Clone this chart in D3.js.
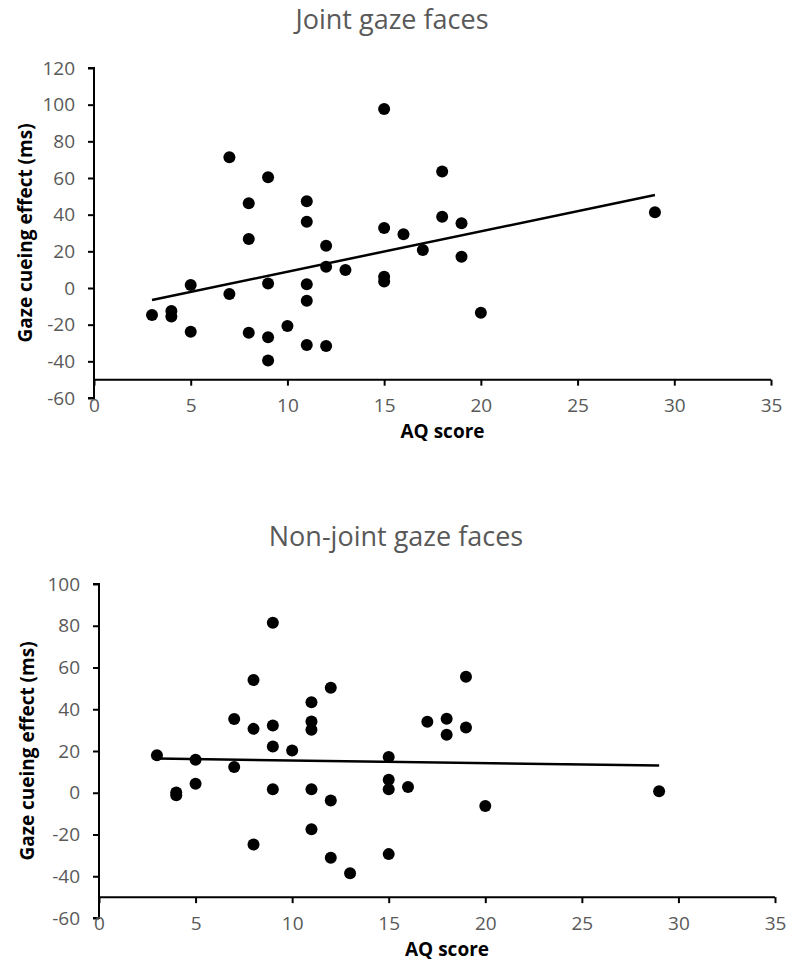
<!DOCTYPE html>
<html>
<head>
<meta charset="utf-8">
<script src="https://cdn.jsdelivr.net/npm/d3@7"></script>
<style>
  body { margin: 0; background: #fff; }
  svg { display: block; }
</style>
</head>
<body>
<svg id="chart" width="786" height="963"></svg>
<script>
// AQ score vs gaze cueing effect, two panels

const jointAQ = [3, 4, 4, 5, 5, 7, 7, 8, 8, 8, 9, 9, 9, 9, 10, 11, 11, 11, 11, 11, 12, 12, 12, 13, 15, 15, 15, 15, 16, 17, 18, 18, 19, 19, 20, 29]
const jointEffect = [-14.7, -12.5, -15.6, 1.6, -23.8, 71.3, -3.3, 46.2, 26.7, -24.4, 60.4, 2.5, -26.9, -39.5, -20.7, 47.3, 36.2, 2.0, -6.9, -31.1, 23.1, 11.6, -31.6, 9.8, 97.6, 32.7, 6.2, 3.5, 29.3, 20.7, 63.5, 38.9, 35.3, 17.1, -13.5, 41.3]
const jointTrend = [[3, -6.5], [29, 50.7]]

const nonJointAQ = [3, 4, 4, 5, 5, 7, 7, 8, 8, 8, 9, 9, 9, 9, 10, 11, 11, 11, 11, 11, 12, 12, 12, 13, 15, 15, 15, 15, 16, 17, 18, 18, 19, 19, 20, 29]
const nonJointEffect = [18.0, 0.1, -1.2, 15.8, 4.3, 35.3, 12.3, 54.0, 30.6, -24.8, 81.4, 32.2, 22.2, 1.7, 20.2, 43.4, 34.1, 30.2, 1.7, -17.5, 50.3, -3.7, -31.1, -38.6, 17.1, 6.2, 1.7, -29.4, 2.8, 34.0, 35.4, 27.8, 55.6, 31.3, -6.3, 0.7]
const nonJointTrend = [[3, 16.4], [29, 13.0]]

const xTicks = [0, 5, 10, 15, 20, 25, 30, 35]
const jointYTicks = [-60, -40, -20, 0, 20, 40, 60, 80, 100, 120]
const nonJointYTicks = [-60, -40, -20, 0, 20, 40, 60, 80, 100]

const svg = d3.select('#chart')
const tickGray = '#595959'
const font = "'Open Sans', sans-serif"

function drawPanel(cfg) {
    const g = svg.append('g')

    const x = d3.scaleLinear().domain([0, 35]).range([cfg.left, cfg.right])
    const y = d3.scaleLinear().domain([cfg.yTicks[0], cfg.yTicks[cfg.yTicks.length - 1]]).range([cfg.bottom, cfg.top])

    // title
    g.append('text').attr('x', cfg.titleX).attr('y', cfg.titleY)
        .attr('text-anchor', 'middle').style('font-family', font).style('font-size', '27px').style('fill', tickGray)
        .text(cfg.title)

    // y axis
    const yAxis = g.append('g').attr('transform', `translate(${cfg.left},0)`)
        .call(d3.axisLeft(y).tickValues(cfg.yTicks).tickFormat(d => String(d)).tickSize(6).tickPadding(13))
    yAxis.select('.domain').attr('d', `M-6,${y(cfg.yTicks[cfg.yTicks.length - 1])}H0V${y(cfg.yTicks[0])}H-6`).style('stroke', '#000').style('stroke-width', 2)
    yAxis.selectAll('.tick line').style('stroke', '#000').style('stroke-width', 2)
    yAxis.selectAll('.tick text').style('font-family', font).style('font-size', '19px').style('fill', tickGray)

    // x axis crosses at -50
    const xAxis = g.append('g').attr('transform', `translate(0,${y(-50)})`)
        .call(d3.axisBottom(x).tickValues(xTicks).tickFormat(d => String(d)).tickSize(6).tickPadding(13))
    xAxis.select('.domain').attr('d', `M${x(0)},0H${x(35)}`).style('stroke', '#000').style('stroke-width', 2)
    xAxis.selectAll('.tick line').style('stroke', '#000').style('stroke-width', 2)
    xAxis.selectAll('.tick text').style('font-family', font).style('font-size', '19px').style('fill', tickGray)

    // axis titles
    g.append('text').attr('x', (x(0) + x(35)) / 2 + 10).attr('y', y(-50) + cfg.xLabelGap)
        .attr('text-anchor', 'middle').style('font-family', font).style('font-size', '19px').style('font-weight', 'bold').style('fill', '#000')
        .text('AQ score')
    g.append('text').attr('transform', `translate(${cfg.yLabelX},${(cfg.top + cfg.bottom) / 2}) rotate(-90)`)
        .attr('text-anchor', 'middle').style('font-family', font).style('font-size', '19px').style('font-weight', 'bold').style('fill', '#000')
        .text('Gaze cueing effect (ms)')

    // points
    g.selectAll('.dot').data(cfg.xs.map((v, i) => [v, cfg.ys[i]])).enter().append('circle')
        .attr('class', 'dot').attr('cx', d => x(d[0])).attr('cy', d => y(d[1])).attr('r', 6).style('fill', '#000')

    // trend line
    g.append('path').datum(cfg.trend)
        .attr('d', d3.line().x(d => x(d[0])).y(d => y(d[1])))
        .style('stroke', '#000').style('stroke-width', 2.5).style('fill', 'none')
}

drawPanel({
    title: 'Joint gaze faces', titleX: 392, titleY: 29,
    left: 94, right: 771, top: 68, bottom: 398,
    yTicks: jointYTicks, xs: jointAQ, ys: jointEffect, trend: jointTrend,
    xLabelGap: 58, yLabelX: 32
})

drawPanel({
    title: 'Non-joint gaze faces', titleX: 396, titleY: 546,
    left: 99, right: 775, top: 584, bottom: 918,
    yTicks: nonJointYTicks, xs: nonJointAQ, ys: nonJointEffect, trend: nonJointTrend,
    xLabelGap: 59, yLabelX: 34
})
</script>
</body>
</html>
